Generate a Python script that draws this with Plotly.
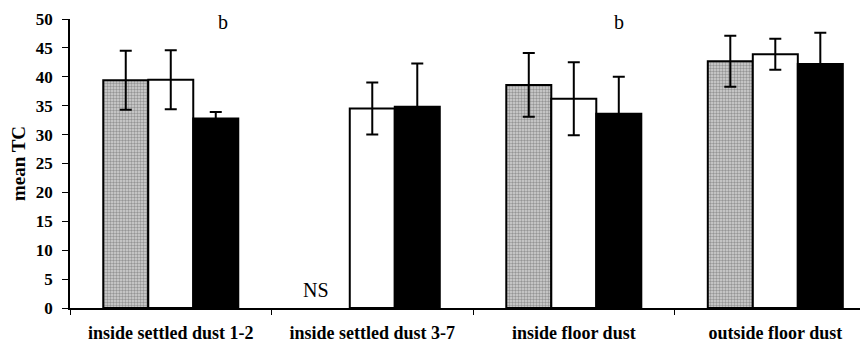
import plotly.graph_objects as go

categories = ["inside settled dust 1-2", "inside settled dust 3-7", "inside floor dust", "outside floor dust"]
gray_vals = [39.4, None, 38.6, 42.7]
gray_err = [5.1, 0, 5.5, 4.4]
white_vals = [39.5, 34.5, 36.2, 43.9]
white_err = [5.1, 4.5, 6.3, 2.7]
black_vals = [32.8, 34.8, 33.6, 42.2]
black_err = [1.1, 7.5, 6.4, 5.4]
y_ticks = [0, 5, 10, 15, 20, 25, 30, 35, 40, 45, 50]

FONT = "Liberation Serif"

fig = go.Figure()
err_style = dict(type="data", color="black", thickness=2, width=6)

fig.add_trace(go.Bar(
    x=categories, y=gray_vals,
    error_y=dict(array=gray_err, **err_style),
    marker=dict(color="#c8c8c8", line=dict(color="black", width=2),
                pattern=dict(shape=".", size=3, solidity=0.5, fgcolor="#555555", bgcolor="#d4d4d4")),
))
fig.add_trace(go.Bar(
    x=categories, y=white_vals,
    error_y=dict(array=white_err, **err_style),
    marker=dict(color="white", line=dict(color="black", width=2)),
))
fig.add_trace(go.Bar(
    x=categories, y=black_vals,
    error_y=dict(array=black_err, **err_style),
    marker=dict(color="black", line=dict(color="black", width=2)),
))

fig.update_layout(
    width=868, height=348,
    margin=dict(l=62, r=8, t=11, b=48),
    plot_bgcolor="white", paper_bgcolor="white",
    barmode="group", bargap=0.33, bargroupgap=0,
    showlegend=False,
    font=dict(family=FONT, size=14, color="black"),
    xaxis=dict(
        range=[-0.5, 3.46], showline=True, linecolor="black", linewidth=1.5,
        ticks="outside", tickson="boundaries", ticklen=5, tickcolor="black",
        tickfont=dict(family=FONT, size=18, color="black", weight="bold"),
        ticklabelstandoff=8,
        showgrid=False, zeroline=False, automargin=False,
    ),
    yaxis=dict(
        range=[0, 50], tickvals=y_ticks, showline=True, linecolor="black", linewidth=1.5,
        ticks="outside", ticklen=6, tickcolor="black",
        tickfont=dict(family=FONT, size=17, color="black", weight="bold"),
        ticklabelstandoff=6,
        showgrid=False, zeroline=False, automargin=False,
        title=dict(text="mean TC", font=dict(family=FONT, size=19, color="black", weight="bold"), standoff=10),
    ),
    annotations=[
        dict(x=categories[0], y=50, text="b", showarrow=False, xshift=52, yshift=-3,
             font=dict(family=FONT, size=20, color="black"), yanchor="middle"),
        dict(x=categories[2], y=50, text="b", showarrow=False, xshift=45, yshift=-3,
             font=dict(family=FONT, size=20, color="black"), yanchor="middle"),
        dict(x=categories[1], y=3.2, text="NS", showarrow=False, xshift=-56,
             font=dict(family=FONT, size=20, color="black"), yanchor="middle"),
    ],
)

fig.write_html("out.html")
